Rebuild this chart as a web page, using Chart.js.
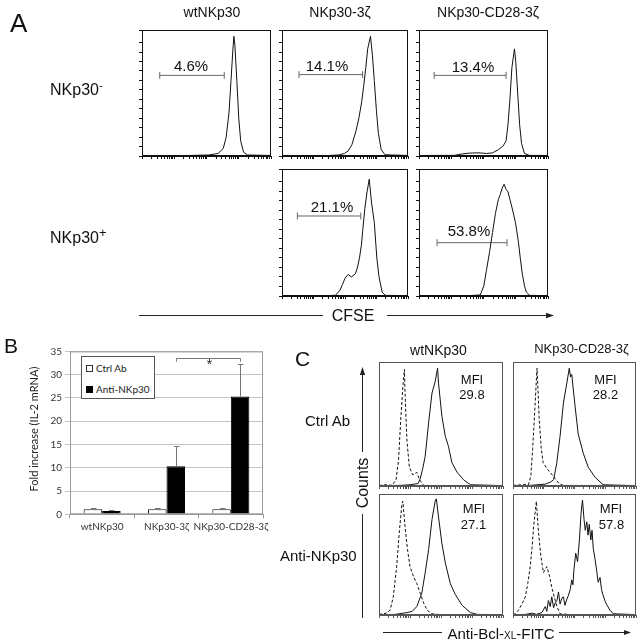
<!DOCTYPE html>
<html><head><meta charset="utf-8">
<script src="https://cdn.jsdelivr.net/npm/chart.js@4.4.1/dist/chart.umd.min.js"></script>
<style>
html,body{margin:0;padding:0;background:#fff;}
body{width:642px;height:643px;position:relative;overflow:hidden;font-family:"Liberation Sans",Arial,sans-serif;color:#111;}
.t{position:absolute;white-space:nowrap;line-height:1;z-index:5;}
canvas{position:absolute;}
#bleg{position:absolute;left:81px;top:356px;width:72px;height:41px;border:1px solid #555;background:#fff;font-family:Lato,"Liberation Sans",sans-serif;font-size:10px;color:#222;z-index:6;}
#bleg .it{position:absolute;left:4px;white-space:nowrap;line-height:1;}
#bleg .sq{display:inline-block;width:5px;height:5px;border:1px solid #333;margin-right:3px;vertical-align:0px;}
</style></head><body>
<svg id="deco" width="642" height="643" style="position:absolute;left:0;top:0;z-index:4" xmlns="http://www.w3.org/2000/svg">
  <g stroke="#222" stroke-width="1" fill="none">
    <line x1="139" y1="315.5" x2="323" y2="315.5"/>
    <line x1="387" y1="315.5" x2="548" y2="315.5"/>
    <line x1="362.5" y1="373" x2="362.5" y2="452"/>
    <line x1="362.5" y1="514" x2="362.5" y2="618"/>
    <line x1="383" y1="632.5" x2="442" y2="632.5"/>
    <line x1="559" y1="632.5" x2="625" y2="632.5"/>
  </g>
  <g fill="#222">
    <polygon points="554,315.5 546,312.8 546,318.2"/>
    <polygon points="362.5,367 359.8,375 365.2,375"/>
    <polygon points="631,632.5 624,630 624,635"/>
  </g>
</svg>
<script>
// ---------------- DATA ----------------
// Panel A : CFSE histograms, x = log decades (0..4), y = % of frame height
const aColumns = ['wtNKp30', 'NKp30-3ζ', 'NKp30-CD28-3ζ'];
const aRows = ['NKp30', 'NKp30'];
const aRowSigns = ['-', '+'];
const aWtNeg = [[0,0.4],[1.45,0.4],[2.06,0.8],[2.36,2],[2.52,6],[2.61,15],[2.70,35],[2.76,60],[2.82,85],[2.85,95],[2.88,88],[2.94,60],[3.00,30],[3.06,12],[3.15,3],[3.27,0.8],[4.0,0.4]];
const a3zNeg = [[0,0.4],[1.48,0.4],[1.79,0.8],[1.98,2],[2.10,4],[2.22,9],[2.35,20],[2.44,30],[2.53,43],[2.59,55],[2.66,70],[2.72,85],[2.81,95],[2.87,80],[2.93,60],[3.00,35],[3.06,18],[3.15,5],[3.27,1],[4.0,0.4]];
const aCd28Neg = [[0,0.4],[1.10,0.5],[1.31,1.5],[1.56,2.3],[1.86,2.5],[2.10,2.0],[2.28,2.5],[2.46,5],[2.61,8],[2.70,12],[2.76,25],[2.82,45],[2.88,70],[2.96,85],[3.00,75],[3.06,50],[3.12,25],[3.18,10],[3.27,2],[3.42,0.5],[4.0,0.4]];
const a3zPos = [[0,0.3],[1.48,0.3],[1.70,0.6],[1.84,4.6],[1.92,9],[2.00,14],[2.10,17],[2.20,15],[2.33,17.5],[2.39,22],[2.46,30],[2.52,40],[2.56,51],[2.63,69],[2.70,82],[2.77,92],[2.84,74],[2.93,58],[3.01,30],[3.08,15],[3.18,3],[3.28,0.5],[4.0,0.3]];
const aCd28Pos = [[0,0.3],[1.56,0.3],[1.90,0.8],[2.01,8],[2.09,20],[2.19,35],[2.28,50],[2.37,65],[2.46,76],[2.52,80],[2.58,85],[2.64,88],[2.70,84],[2.76,82],[2.82,76],[2.88,70],[2.99,58],[3.08,43],[3.14,30],[3.20,18],[3.27,8],[3.33,3],[3.43,0.5],[4.0,0.3]];
// gate: [start, end, level]
const aGates = [[0.55,2.55,64],[0.54,2.56,64.6],[0.47,2.70,64],[0.49,2.50,63],[0.56,2.73,42]];
const aGateLabels = ['4.6%','14.1%','13.4%','21.1%','53.8%'];
const aAxisLabel = 'CFSE';

// Panel B : IL-2 mRNA bar chart
const bCategories = ['wtNKp30', 'NKp30-3ζ', 'NKp30-CD28-3ζ'];
const bSeriesNames = ['Ctrl Ab', 'Anti-NKp30'];
const bCtrlAb = [1.1, 1.1, 1.1];
const bCtrlAbErr = [0.15, 0.2, 0.15];
const bAntiNKp30 = [0.7, 10.3, 25.3];
const bAntiNKp30Err = [0.3, 4.4, 7.1];
const bYTicks = [0, 5, 10, 15, 20, 25, 30, 35];
const bYTitle = 'Fold increase (IL-2 mRNA)';
const bSigLevels = [33.6, 32.8]; // bracket line, bracket feet
const bSigMark = '*';

// Panel C : Bcl-xL histograms (dashed = isotype, solid = stain)
const cColumns = ['wtNKp30', 'NKp30-CD28-3ζ'];
const cRows = ['Ctrl Ab', 'Anti-NKp30'];
const cMFI = ['29.8', '28.2', '27.1', '57.8'];
const cWtCtrlIso = [[0,0.5],[0.23,1],[0.42,0.5],[0.55,5],[0.63,21],[0.70,53],[0.77,80],[0.82,94],[0.84,75],[0.90,37],[0.98,15],[1.09,9],[1.22,11],[1.31,5],[1.44,0.5],[1.98,0.3],[4.0,0.3]];
const cWtCtrl = [[0,0.3],[0.68,0.5],[1.00,1],[1.26,2],[1.33,6],[1.41,14],[1.49,24],[1.60,51],[1.71,75],[1.81,84],[1.89,95],[1.92,83],[2.03,56],[2.14,40],[2.24,32],[2.35,19],[2.52,11],[2.73,5],[2.95,1],[4.0,0.3]];
const cCdCtrlIso = [[0,0.5],[0.30,1],[0.50,1],[0.58,8],[0.64,30],[0.71,62],[0.78,95],[0.80,85],[0.85,55],[0.92,30],[0.98,19],[1.10,14],[1.21,11],[1.37,6],[1.50,2],[1.63,0.5],[4.0,0.3]];
const cCdCtrl = [[0,0.3],[0.56,0.5],[1.05,1.5],[1.21,3],[1.32,5],[1.42,18],[1.53,40],[1.64,67],[1.75,83],[1.83,95],[1.87,88],[1.91,90],[2.02,64],[2.12,42],[2.29,26],[2.45,15],[2.67,7],[2.93,1],[4.0,0.3]];
const cWtAntiIso = [[0,0.5],[0.23,1.5],[0.36,4],[0.46,15],[0.57,40],[0.66,70],[0.74,92],[0.77,94],[0.84,73],[0.92,54],[1.00,40],[1.11,32],[1.22,26],[1.33,18],[1.44,10],[1.55,4],[1.71,1],[1.98,0.3],[4.0,0.3]];
const cWtAnti = [[0,0.3],[0.52,0.5],[0.90,2],[1.07,3],[1.22,7],[1.38,18],[1.49,35],[1.60,54],[1.71,79],[1.81,94],[1.85,96],[1.92,81],[2.03,59],[2.14,43],[2.30,26],[2.46,17],[2.68,8],[2.95,2],[3.17,0.5],[4.0,0.3]];
const cCdAntiIso = [[0,0.5],[0.07,1],[0.18,4],[0.29,9],[0.40,15],[0.48,26],[0.56,40],[0.62,56],[0.67,73],[0.76,94],[0.83,68],[0.91,48],[0.99,35],[1.10,40],[1.19,32],[1.26,23],[1.34,15],[1.43,7],[1.53,1],[1.86,0.3],[4.0,0.3]];
const cCdAnti = [[0,0.3],[0.40,0.5],[0.63,1.5],[0.76,0.5],[0.94,2],[1.05,7],[1.10,3],[1.15,12],[1.21,7],[1.26,15],[1.32,6],[1.37,10],[1.43,12],[1.48,19],[1.53,9],[1.59,14],[1.64,15],[1.69,8],[1.75,13],[1.80,16],[1.86,21],[1.91,29],[1.95,25],[1.98,37],[2.04,51],[2.10,44],[2.16,62],[2.21,83],[2.26,95],[2.31,79],[2.35,70],[2.40,77],[2.44,66],[2.48,75],[2.53,62],[2.57,70],[2.61,55],[2.67,46],[2.72,37],[2.77,27],[2.83,31],[2.88,21],[2.92,17],[2.96,14],[3.00,11],[3.04,9],[3.15,4],[3.26,1],[4.0,0.3]];
const cAxisLabel = ['Anti-Bcl-', 'XL', '-FITC'];
const cCountsLabel = 'Counts';

// ---------------- RENDERING ----------------
Chart.defaults.font.family = '"Liberation Sans", Arial, sans-serif';
const logTickPos = [];
for (let d = 0; d < 4; d++) for (let k = 1; k < 10; k++) logTickPos.push(d + Math.log10(k));
logTickPos.push(4);

const framePlugin = {
  id: 'frame',
  afterDraw(ch, args, opts) {
    const a = ch.chartArea, ctx = ch.ctx;
    ctx.save();
    ctx.strokeStyle = opts.color || '#000';
    ctx.lineWidth = 1;
    ctx.strokeRect(a.left + 0.5, a.top + 0.5, a.right - a.left - 1, a.bottom - a.top - 1);
    ctx.restore();
  }
};

function hist(box, curves, opts) {
  const padL = 6, padB = 6, padR = 2, padT = 2;
  const W = box.w + padL + padR, H = box.h + padT + padB;
  const c = document.createElement('canvas');
  c.width = W; c.height = H;
  Object.assign(c.style, {left: (box.x - padL) + 'px', top: (box.y - padT) + 'px', width: W + 'px', height: H + 'px'});
  document.body.appendChild(c);
  const datasets = curves.map(cv => ({
    data: cv.pts.map(p => ({x: p[0], y: p[1]})),
    borderColor: '#111', borderWidth: 1, borderDash: cv.dash || [],
    pointRadius: 0, tension: 0, fill: false
  }));
  if (opts.gate) {
    const g = opts.gate;
    datasets.push({data: [{x: g[0], y: g[2]}, {x: g[1], y: g[2]}], borderColor: '#666', borderWidth: 1,
      pointStyle: 'line', pointRadius: 3.5, pointRotation: 90, pointBorderColor: '#666', pointBorderWidth: 1});
  }
  new Chart(c, {
    type: 'line', data: {datasets},
    options: {
      responsive: false, animation: false, devicePixelRatio: 1, events: [],
      layout: {padding: {left: 0, right: padR, top: padT, bottom: 0}},
      plugins: {legend: {display: false}, tooltip: {enabled: false}, frame: {color: opts.frame}},
      scales: {
        x: {type: 'linear', min: 0, max: 4,
          afterFit: s => { s.height = padB; },
          afterBuildTicks: s => { s.ticks = logTickPos.map(v => ({value: v})); },
          ticks: {display: false},
          grid: {drawOnChartArea: false, tickLength: 3, color: opts.frame},
          border: {color: opts.frame}},
        y: {type: 'linear', min: 0, max: 100,
          afterFit: s => { s.width = padL; },
          ticks: {display: false, stepSize: opts.ystep || 10},
          grid: {drawOnChartArea: false, tickLength: 3, display: !!opts.yticks, color: opts.frame},
          border: {color: opts.frame}}
      }
    },
    plugins: [framePlugin]
  });
}

function label(html, x, y, size, o = {}) {
  const d = document.createElement('div');
  d.className = 't';
  d.innerHTML = html;
  d.style.fontSize = size + 'px';
  d.style.left = x + 'px';
  d.style.top = y + 'px';
  if (o.font) d.style.fontFamily = o.font;
  if (o.color) d.style.color = o.color;
  const tx = o.align === 'left' ? '0' : '-50%';
  d.style.transform = `translate(${tx},-50%)` + (o.rot ? ` rotate(${o.rot}deg)` : '');
  document.body.appendChild(d);
  return d;
}

// Panel A
const aFrame = '#111';
hist({x:142, y:27, w:132, h:129}, [{pts: aWtNeg}], {frame: aFrame, gate: aGates[0], yticks: true, ystep: 7.5});
hist({x:282, y:27, w:129, h:129}, [{pts: a3zNeg}], {frame: aFrame, gate: aGates[1], yticks: true, ystep: 7.5});
hist({x:419, y:27, w:132, h:129}, [{pts: aCd28Neg}], {frame: aFrame, gate: aGates[2], yticks: true, ystep: 7.5});
hist({x:282, y:166, w:129, h:130}, [{pts: a3zPos}], {frame: aFrame, gate: aGates[3], yticks: true, ystep: 7.5});
hist({x:419, y:166, w:132, h:130}, [{pts: aCd28Pos}], {frame: aFrame, gate: aGates[4], yticks: true, ystep: 7.5});

label('A', 10, 22.5, 26, {align: 'left'});
label(aColumns[0], 212, 12, 14);
label(aColumns[1], 340, 12, 14);
label(aColumns[2], 488, 12, 14);
label(aRows[0] + '<sup style="font-size:11px;vertical-align:6px">' + aRowSigns[0] + '</sup>', 50, 89, 16, {align: 'left'});
label(aRows[1] + '<sup style="font-size:13px;vertical-align:6px">' + aRowSigns[1] + '</sup>', 50, 236, 16, {align: 'left'});
label(aGateLabels[0], 191, 65, 15);
label(aGateLabels[1], 327, 65, 15);
label(aGateLabels[2], 473, 66, 15);
label(aGateLabels[3], 332, 206, 15);
label(aGateLabels[4], 469, 230, 15);
label(aAxisLabel, 353, 315.5, 16);

// Panel B
(function () {
  const W = 275, H = 215;
  const c = document.createElement('canvas');
  c.width = W; c.height = H;
  Object.assign(c.style, {left: '0px', top: '330px', width: W + 'px', height: H + 'px'});
  document.body.appendChild(c);
  const errPlugin = {
    id: 'errbars',
    afterDatasetsDraw(ch) {
      const ctx = ch.ctx, ys = ch.scales.y;
      ctx.save();
      ctx.strokeStyle = '#777';
      ctx.lineWidth = 1;
      ch.data.datasets.forEach((ds, i) => {
        ch.getDatasetMeta(i).data.forEach((bar, j) => {
          const top = Math.round(ys.getPixelForValue(ds.data[j] + ds.errors[j])) + 0.5;
          const x = Math.round(bar.x) + 0.5;
          ctx.beginPath();
          ctx.moveTo(x, bar.y); ctx.lineTo(x, top);
          ctx.moveTo(x - 2.5, top); ctx.lineTo(x + 3, top);
          ctx.stroke();
        });
      });
      const m = ch.getDatasetMeta(1);
      const x1 = Math.round(m.data[1].x) + 0.5, x2 = Math.round(m.data[2].x) + 0.5;
      const yl = Math.round(ys.getPixelForValue(bSigLevels[0])) + 0.5, yf = ys.getPixelForValue(bSigLevels[1]);
      ctx.beginPath();
      ctx.moveTo(x1, yf); ctx.lineTo(x1, yl); ctx.lineTo(x2, yl); ctx.lineTo(x2, yf);
      ctx.stroke();
      ctx.restore();
    }
  };
  new Chart(c, {
    type: 'bar',
    data: {labels: bCategories, datasets: [
      {label: bSeriesNames[0], data: bCtrlAb, errors: bCtrlAbErr, backgroundColor: '#fff', borderColor: '#111', borderWidth: 1,
        barPercentage: 1, categoryPercentage: 0.575},
      {label: bSeriesNames[1], data: bAntiNKp30, errors: bAntiNKp30Err, backgroundColor: '#000', borderColor: '#000', borderWidth: 1,
        barPercentage: 1, categoryPercentage: 0.575}
    ]},
    options: {
      responsive: false, animation: false, devicePixelRatio: 1, events: [],
      layout: {padding: {left: 0, right: 12, top: 21.4, bottom: 0}},
      plugins: {legend: {display: false}, tooltip: {enabled: false}, frame: {color: '#999'}},
      scales: {
        x: {afterFit: s => { s.height = 30.7; },
          ticks: {font: {family: 'Lato', size: 10}, color: '#333', padding: 2, maxRotation: 0, minRotation: 0, autoSkip: false},
          grid: {drawOnChartArea: false, tickLength: 4, color: '#999', offset: true},
          border: {color: '#999'}},
        y: {min: 0, max: 35, afterFit: s => { s.width = 70; },
          afterBuildTicks: s => { s.ticks = bYTicks.map(v => ({value: v})); },
          ticks: {font: {family: 'Lato', size: 10}, color: '#333', padding: 3},
          grid: {color: '#c4c4c4', tickLength: 5},
          border: {color: '#999'}}
      }
    },
    plugins: [framePlugin, errPlugin]
  });
})();
label('B', 4, 344.5, 21, {align: 'left'});
label(bYTitle, 32.5, 428.5, 11, {rot: -90, font: 'Lato, "Liberation Sans", sans-serif', color: '#222'});
label(bSigMark, 209.5, 364, 14, {color: '#222'});
(function () {
  const lg = document.createElement('div');
  lg.id = 'bleg';
  lg.innerHTML = '<div class="it" style="top:6px"><span class="sq" style="background:#fff"></span>' + bSeriesNames[0] + '</div>' +
                 '<div class="it" style="top:27px"><span class="sq" style="background:#000;border-color:#000"></span>' + bSeriesNames[1] + '</div>';
  document.body.appendChild(lg);
})();

// Panel C
const cFrame = '#555';
hist({x:379, y:362, w:124, h:124}, [{pts: cWtCtrlIso, dash: [3, 2]}, {pts: cWtCtrl}], {frame: cFrame});
hist({x:513, y:362, w:123, h:124}, [{pts: cCdCtrlIso, dash: [3, 2]}, {pts: cCdCtrl}], {frame: cFrame});
hist({x:379, y:494, w:124, h:121}, [{pts: cWtAntiIso, dash: [3, 2]}, {pts: cWtAnti}], {frame: cFrame});
hist({x:513, y:494, w:123, h:121}, [{pts: cCdAntiIso, dash: [3, 2]}, {pts: cCdAnti}], {frame: cFrame});

label('C', 295, 357.5, 21, {align: 'left'});
label(cColumns[0], 438.5, 350, 14);
label(cColumns[1], 581.5, 348, 13);
label(cRows[0], 305, 420, 15, {align: 'left'});
label(cRows[1], 280, 555, 15, {align: 'left'});
label(cCountsLabel, 362.5, 482.5, 16, {rot: -90});
label('MFI', 472, 378.5, 13); label(cMFI[0], 472, 394, 13);
label('MFI', 605.5, 378.5, 13); label(cMFI[1], 605.5, 394, 13);
label('MFI', 474, 507.5, 13); label(cMFI[2], 473.5, 524, 13);
label('MFI', 611, 507.5, 13); label(cMFI[3], 611.5, 524, 13);
label(cAxisLabel[0] + '<span style="font-size:10px">' + cAxisLabel[1] + '</span>' + cAxisLabel[2], 501, 632.5, 15);
</script>
</body></html>
